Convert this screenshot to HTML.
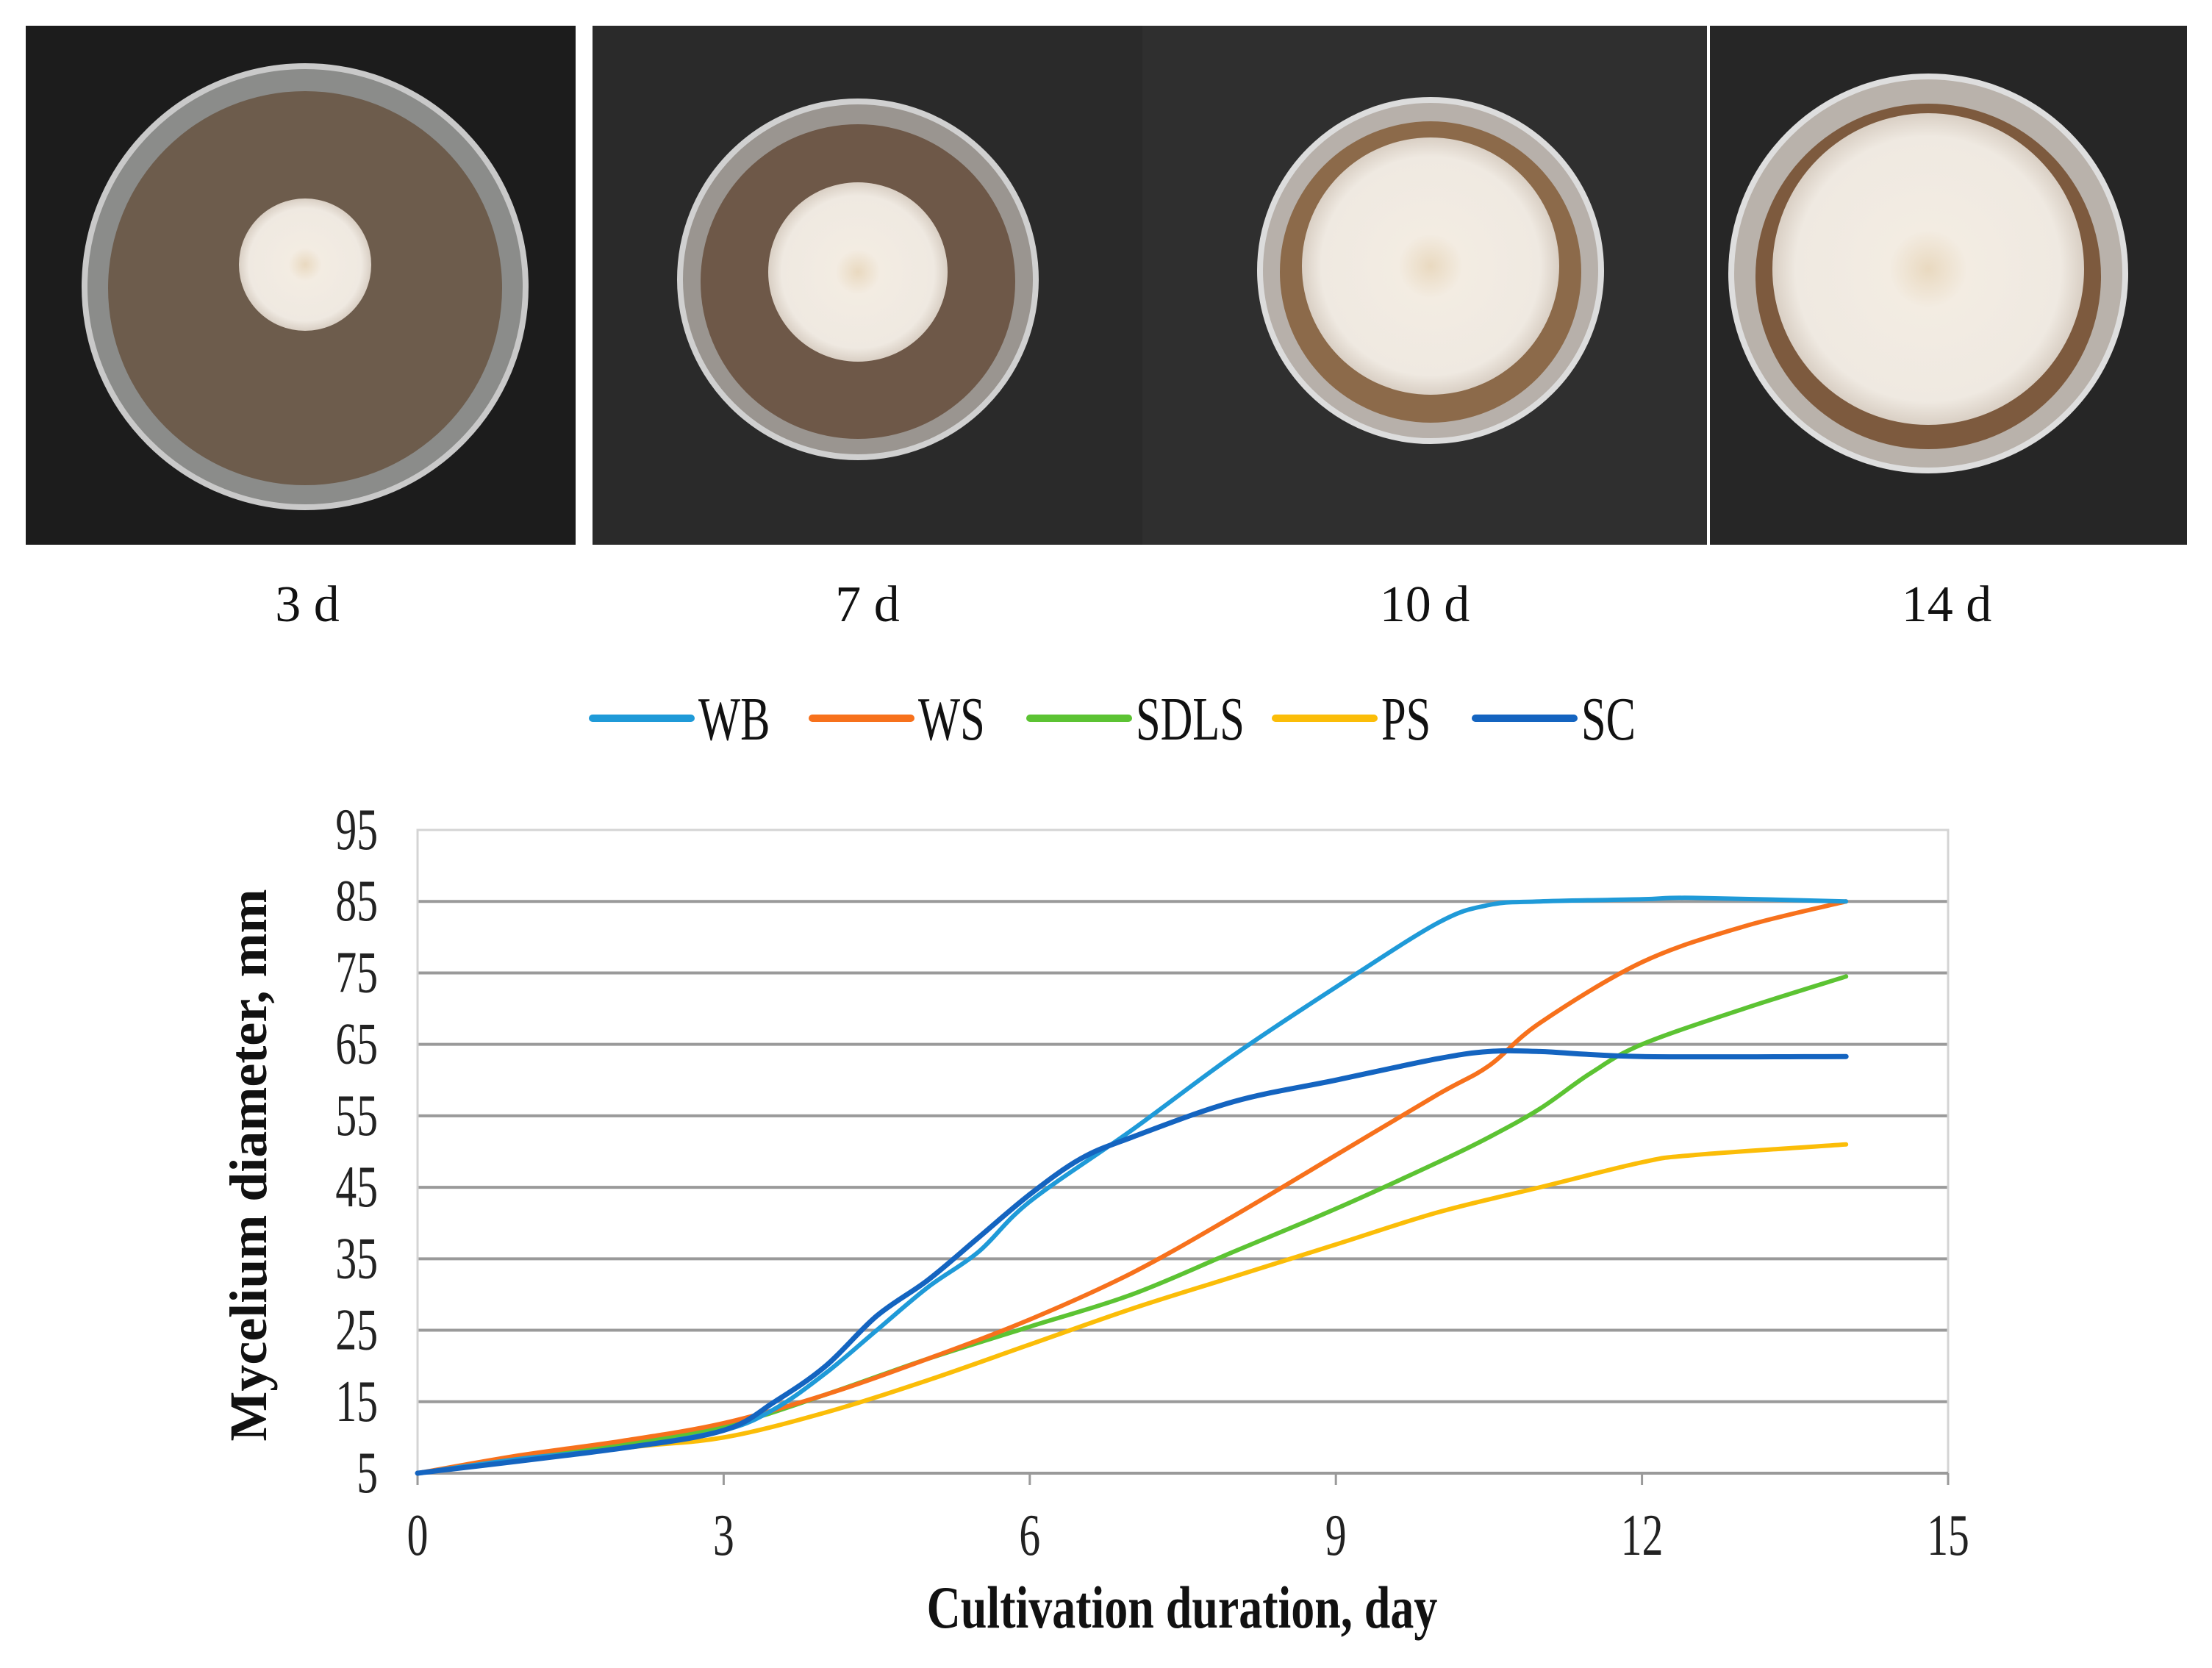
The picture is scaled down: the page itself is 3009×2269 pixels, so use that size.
<!DOCTYPE html>
<html><head><meta charset="utf-8"><style>
html,body{margin:0;padding:0;background:#fff}
svg{display:block}
text{font-family:"Liberation Serif",serif}
</style></head><body>
<svg id="fig" width="3009" height="2269" viewBox="0 0 3009 2269" xmlns="http://www.w3.org/2000/svg">
<defs>
<radialGradient id="myc" cx="50%" cy="50%" r="50%"><stop offset="0" stop-color="#e9d9c0"/><stop offset="0.25" stop-color="#f3ece2"/><stop offset="0.85" stop-color="#efe9e1"/><stop offset="1" stop-color="#d9cfc4"/></radialGradient>
</defs>
<g>
 <g>
  <rect x="35" y="35" width="748" height="706" fill="#1c1c1c"/>
  <circle cx="415" cy="390" r="300" fill="#8b8c8a" stroke="#c9c9c9" stroke-width="8"/>
  <circle cx="415" cy="392" r="268" fill="#6d5c4c"/>
  <circle cx="415" cy="360" r="90" fill="url(#myc)"/>
 </g>
 <g>
  <rect x="806" y="35" width="748" height="706" fill="#2a2a2a"/>
  <circle cx="1167" cy="380" r="242" fill="#9a9590" stroke="#d0d0d0" stroke-width="8"/>
  <circle cx="1167" cy="383" r="214" fill="#6e5848"/>
  <circle cx="1167" cy="370" r="122" fill="url(#myc)"/>
 </g>
 <g>
  <rect x="1554" y="35" width="768" height="706" fill="#2f2f2f"/>
  <circle cx="1946" cy="368" r="232" fill="#b7b0aa" stroke="#dcdcdc" stroke-width="8"/>
  <circle cx="1946" cy="370" r="205" fill="#8c6a4a"/>
  <circle cx="1946" cy="362" r="175" fill="url(#myc)"/>
 </g>
 <g>
  <rect x="2326" y="35" width="649" height="706" fill="#262626"/>
  <circle cx="2623" cy="372" r="268" fill="#b9b2ab" stroke="#dedede" stroke-width="8"/>
  <circle cx="2623" cy="376" r="235" fill="#7d5a3e"/>
  <circle cx="2623" cy="366" r="212" fill="url(#myc)"/>
 </g>
</g>
<g font-size="70" text-anchor="middle" fill="#111">
 <text x="418" y="845">3 d</text>
 <text x="1180" y="845">7 d</text>
 <text x="1938" y="845">10 d</text>
 <text x="2648" y="845">14 d</text>
</g>
<g id="legend"></g>
<g id="grid"></g>
<rect x="568" y="1129" width="2082" height="875" fill="none" stroke="#d4d4d4" stroke-width="3"/>
<g id="yticks"></g>
<g id="xticks"></g>
<g id="series"></g>
<text transform="translate(362,1585) rotate(-90)" font-size="72" font-weight="bold" text-anchor="middle" fill="#111">Mycelium diameter, mm</text>
<text transform="translate(1608,2214) scale(0.78,1)" font-size="82" font-weight="bold" text-anchor="middle" fill="#111">Cultivation duration, day</text>
</svg>
<script>
const seriesNames=["WB","WS","SDLS","PS","SC"];
const seriesColors=["#1f9ad8","#f7711c","#5cc333","#fbbd08","#1464c0"];
const yTicks=[5,15,25,35,45,55,65,75,85,95];
const xTicks=[0,3,6,9,12,15];
const wbDays=[0,1,2,3,3.5,4,4.5,5,5.5,6,7,8,9,10,10.5,11,12,12.5,14];
const wbVals=[5,7,8.5,11,14,19,25,31,36,43,53,63.5,73,82,84.5,85,85.3,85.5,85];
const wsDays=[0,1,2,3,4,5,6,7,8,9,10,10.5,11,12,13,14];
const wsVals=[5,7.5,9.5,12,16,21,26.5,33,41,49.5,58,62,68,76.5,81.5,85];
const sdlsDays=[0,2,3,4,5,6,7,8,9,10,10.5,11,11.5,12,13,14];
const sdlsVals=[5,9,11.5,16,21,25.5,30,36,42,48.5,52,56,61,65,70,74.5];
const psDays=[0,2,3,4,5,6,7,8,9,10,11,12,12.5,14];
const psVals=[5,8.5,10,13.5,18,23,28,32.5,37,41.5,45,48.5,49.5,51];
const scDays=[0,2,3,3.5,4,4.5,5,5.5,6,6.5,7,8,9,10,10.5,11,12,14];
const scVals=[5,8.5,11,15,20,27,32,38,44,49,52,57,60,63,64,64,63.3,63.3];
const NS="http://www.w3.org/2000/svg";
const X0=568,X1=2650,Y0=2004,Y1=1129;
function xs(d){return X0+(d-0)/(15-0)*(X1-X0);}
function ys(v){return Y0-(v-5)/(95-5)*(Y0-Y1);}
function mk(t,a,p){const e=document.createElementNS(NS,t);for(const k in a)e.setAttribute(k,a[k]);p.appendChild(e);return e;}
const grid=document.getElementById('grid'),yt=document.getElementById('yticks'),xt=document.getElementById('xticks');
yTicks.forEach(v=>{
 if(v>5&&v<95){const l=mk('line',{x1:X0,x2:X1,y1:ys(v),y2:ys(v),stroke:'#9a9a9a','stroke-width':4},grid);
 
 }
 const t=mk('text',{transform:`translate(514,${ys(v)+26}) scale(0.72,1)`,'font-size':80,'text-anchor':'end',fill:'#222'},yt);
 t.textContent=v;
 
 
});
const ax=mk('line',{x1:X0,x2:X1,y1:Y0,y2:Y0,stroke:'#9a9a9a','stroke-width':4},xt);


xTicks.forEach(d=>{
 const tk=mk('line',{x1:xs(d),x2:xs(d),y1:Y0,y2:Y0+16,stroke:'#9a9a9a','stroke-width':3},xt);
 
 
 const t=mk('text',{transform:`translate(${xs(d)},2115) scale(0.72,1)`,'font-size':80,'text-anchor':'middle',fill:'#222'},xt);
 t.textContent=d;
 
 
});
function path(ds,vs){const p=ds.map((d,i)=>[xs(d),ys(vs[i])]);let s=`M${p[0][0]},${p[0][1]}`;
 for(let i=0;i<p.length-1;i++){const a=p[Math.max(0,i-1)],b=p[i],c=p[i+1],e=p[Math.min(p.length-1,i+2)];
 s+=` C${b[0]+(c[0]-a[0])/6},${b[1]+(c[1]-a[1])/6} ${c[0]-(e[0]-b[0])/6},${c[1]-(e[1]-b[1])/6} ${c[0]},${c[1]}`;}return s;}
const sd=[[wbDays,wbVals],[wsDays,wsVals],[sdlsDays,sdlsVals],[psDays,psVals],[scDays,scVals]];
const order=[3,2,1,0,4];
const sg=document.getElementById('series');
order.forEach(i=>{const el=mk('path',{d:path(sd[i][0],sd[i][1]),fill:'none',stroke:seriesColors[i],'stroke-width':i==4?7:6,'stroke-linecap':'round'},sg);
 
 });
const lg=document.getElementById('legend');
const lx=[806,1105,1401,1735,2007];
seriesNames.forEach((n,i)=>{
 const g=mk('g',{},lg);
 
 
 mk('line',{x1:lx[i],x2:lx[i]+134,y1:977,y2:977,stroke:seriesColors[i],'stroke-width':10,'stroke-linecap':'round'},g);
 const t=mk('text',{transform:`translate(${lx[i]+144},1006) scale(0.72,1)`,'font-size':84,fill:'#111'},g);
 t.textContent=n;
});
</script>
</body></html>
